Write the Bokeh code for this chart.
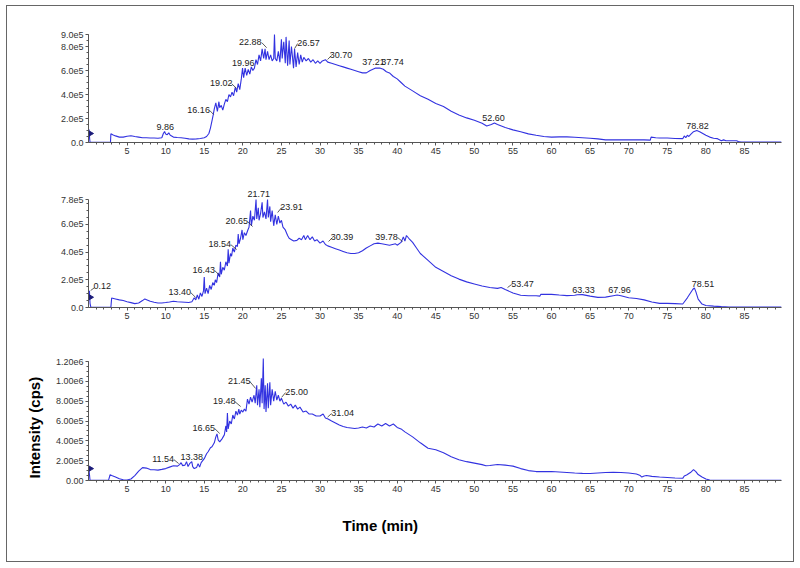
import numpy as np
from bokeh.plotting import figure
from bokeh.models import Range1d, FixedTicker, ColumnDataSource, Title
from bokeh.layouts import column
from bokeh.embed import file_html
from bokeh.resources import INLINE
from bokeh.core.properties import value

# ---------------- data (intensity in units of 1e5 cps) ----------------
time_a = [0, 0.05, 0.1, 0.15, 0.2, 1, 2, 2.85, 2.9, 3.2, 3.5, 4, 4.5, 5, 5.5, 6, 6.5, 7, 7.5, 8,
          8.5, 9, 9.5, 9.7, 9.86, 10.0, 10.2, 10.4, 10.6, 11, 11.5, 12, 12.5, 13, 13.5, 14, 14.5, 15, 15.3, 15.6,
          15.8, 16.0, 16.16, 16.3, 16.5, 16.7, 16.9, 17.0, 17.2, 17.4, 17.6, 17.8, 18.0, 18.2, 18.4, 18.6, 18.8, 19.02, 19.2, 19.4,
          19.6, 19.8, 19.96, 20.1, 20.3, 20.5, 20.7, 20.9, 21.1, 21.3, 21.5, 21.7, 21.9, 22.1, 22.3, 22.5, 22.7, 22.88, 23.0, 23.2,
          23.4, 23.6, 23.8, 24.0, 24.1, 24.2, 24.4, 24.6, 24.8, 25.0, 25.1, 25.3, 25.5, 25.6, 25.8, 26.0, 26.1, 26.3, 26.57, 26.7,
          26.9, 27.1, 27.3, 27.5, 27.7, 27.9, 28.2, 28.5, 28.8, 29.1, 29.4, 29.7, 30.0, 30.3, 30.7, 31.0, 31.5, 32, 32.5, 33,
          33.5, 34, 34.5, 35, 35.5, 36, 36.5, 37.21, 37.74, 38.2, 38.6, 39, 39.5, 40, 40.5, 41, 42, 43, 44, 45,
          46, 47, 48, 49, 50, 51, 51.6, 52.2, 52.6, 53, 54, 55, 56, 57, 58, 59, 60, 61, 62, 63,
          64, 65, 66, 67, 68, 69, 70, 71, 72, 72.8, 72.9, 73.5, 74, 75, 76, 77, 77.2, 77.4, 77.6, 77.8,
          78.0, 78.4, 78.82, 79.2, 79.6, 80, 80.5, 81, 81.5, 82, 82.3, 82.6, 83, 83.5, 84, 84.3, 84.6, 86, 88, 89.8]
inten_a = [1.0, 1.1, 0.9, 0.3, 0.02, 0.02, 0.02, 0.02, 0.72, 0.62, 0.55, 0.45, 0.45, 0.52, 0.56, 0.5, 0.45, 0.4, 0.4, 0.38,
           0.37, 0.36, 0.4, 0.75, 0.92, 0.7, 0.65, 0.8, 0.6, 0.45, 0.42, 0.4, 0.35, 0.3, 0.28, 0.3, 0.33, 0.4, 0.5, 0.75,
           1.2, 1.8, 2.3, 2.8, 3.3, 2.6, 3.4, 2.9, 3.1, 2.7, 3.2, 3.6, 3.4, 4.0, 3.8, 4.2, 3.9, 4.6, 4.2, 4.9,
           4.4, 5.3, 6.2, 5.4, 6.2, 5.6, 6.1, 5.7, 6.3, 6.0, 6.2, 6.9, 6.5, 7.3, 6.8, 7.8, 7.0, 7.8, 6.9, 7.6,
           6.9, 7.3, 6.8, 7.0, 9.0, 7.0, 6.8, 7.6, 6.7, 8.6, 7.0, 8.4, 6.6, 8.8, 6.4, 8.5, 6.5, 8.0, 6.2, 7.8,
           6.3, 7.5, 6.5, 7.3, 6.7, 7.1, 6.8, 7.0, 6.7, 6.9, 6.6, 6.8, 6.6, 6.8, 6.9, 6.7, 6.6, 6.5, 6.4, 6.3,
           6.2, 6.1, 6.0, 5.9, 5.8, 5.8, 6.0, 6.2, 6.2, 6.1, 5.9, 5.8, 5.5, 5.3, 5.0, 4.7, 4.3, 3.9, 3.6, 3.25,
           3.0, 2.6, 2.3, 2.05, 1.85, 1.6, 1.38, 1.5, 1.62, 1.5, 1.25, 1.05, 0.9, 0.72, 0.6, 0.5, 0.45, 0.47, 0.47, 0.44,
           0.4, 0.35, 0.3, 0.22, 0.22, 0.22, 0.22, 0.22, 0.22, 0.2, 0.45, 0.4, 0.38, 0.37, 0.33, 0.32, 0.55, 0.4, 0.6, 0.5,
           0.65, 0.9, 1.0, 0.9, 0.75, 0.6, 0.45, 0.35, 0.32, 0.15, 0.22, 0.15, 0.15, 0.15, 0.14, 0.05, 0.03, 0.03, 0.03, 0.03]

time_b = [0, 0.05, 0.12, 0.2, 0.3, 1, 2, 2.9, 3.0, 3.5, 4, 4.5, 5, 5.5, 6, 6.5, 7.0, 7.3, 7.6, 8,
          8.5, 9, 9.5, 10, 10.5, 11, 11.5, 12, 12.5, 13, 13.4, 13.7, 13.9, 14.1, 14.3, 14.5, 14.7, 14.9, 15.0, 15.1,
          15.3, 15.5, 15.7, 15.9, 16.1, 16.3, 16.43, 16.6, 16.8, 17.0, 17.1, 17.2, 17.4, 17.6, 17.8, 18.0, 18.1, 18.2, 18.4, 18.54,
          18.7, 18.9, 19.1, 19.3, 19.4, 19.5, 19.7, 19.9, 20.0, 20.2, 20.4, 20.65, 20.8, 21.0, 21.1, 21.3, 21.5, 21.71, 21.8, 22.0,
          22.1, 22.3, 22.5, 22.6, 22.8, 23.0, 23.2, 23.3, 23.5, 23.6, 23.8, 23.91, 24.0, 24.2, 24.4, 24.6, 24.8, 25.0, 25.2, 25.5,
          25.8, 26.0, 26.3, 26.6, 27.0, 27.3, 27.6, 27.9, 28.1, 28.4, 28.7, 29.0, 29.3, 29.6, 30.0, 30.39, 30.7, 31.0, 31.5, 32,
          32.5, 33, 33.5, 34, 34.5, 35, 35.5, 36, 36.5, 37, 37.5, 38, 38.5, 39, 39.78, 40, 40.5, 40.8, 41.0, 41.2,
          41.5, 42, 42.5, 43, 44, 45, 46, 47, 48, 49, 50, 51, 52, 53, 53.47, 54, 55, 56, 57, 58,
          58.5, 58.6, 59, 60, 61, 62, 63, 63.33, 64, 65, 66, 67, 68, 68.5, 69, 70, 71, 72, 73, 74,
          75, 76, 77, 77.2, 77.6, 78.0, 78.3, 78.51, 78.7, 79.0, 79.5, 80, 81, 82, 83, 86, 89.8]
inten_b = [0.8, 1.0, 1.2, 0.3, 0.02, 0.02, 0.02, 0.02, 0.68, 0.62, 0.55, 0.5, 0.42, 0.35, 0.28, 0.32, 0.5, 0.62, 0.55, 0.45,
           0.38, 0.32, 0.33, 0.36, 0.4, 0.45, 0.42, 0.4, 0.38, 0.36, 0.42, 0.7, 0.55, 0.9, 0.6, 1.05, 0.8, 1.2, 2.2, 1.0,
           1.4, 1.0, 1.6, 1.3, 1.8, 1.6, 2.0, 1.8, 2.5, 2.2, 3.3, 2.4, 2.9, 2.7, 3.3, 3.0, 4.2, 3.2, 3.9, 3.7,
           4.3, 4.0, 4.5, 4.4, 5.3, 4.6, 5.0, 5.6, 4.9, 5.4, 5.2, 5.6, 5.8, 7.0, 5.9, 6.6, 6.3, 7.8, 6.4, 7.2,
           6.3, 6.8, 7.6, 6.5, 6.9, 6.4, 7.8, 6.5, 7.3, 6.2, 7.0, 6.4, 5.9, 6.7, 6.0, 6.6, 6.1, 6.3, 5.8, 5.6,
           5.2, 5.0, 4.9, 4.8, 4.85, 5.0, 4.9, 5.2, 4.9, 5.2, 4.9, 5.1, 4.8, 4.9, 4.65, 4.8, 4.55, 4.45, 4.35, 4.25,
           4.15, 4.05, 3.95, 3.9, 3.9, 3.95, 4.1, 4.3, 4.45, 4.6, 4.65, 4.6, 4.55, 4.5, 4.6, 4.5, 4.7, 5.1, 4.8, 5.2,
           5.0, 4.7, 4.3, 3.9, 3.4, 2.9, 2.6, 2.3, 2.05, 1.85, 1.7, 1.55, 1.45, 1.38, 1.45, 1.3, 1.05, 0.88, 0.85, 0.85,
           0.82, 0.95, 0.95, 0.95, 0.9, 0.86, 0.88, 0.92, 0.93, 0.82, 0.73, 0.75, 0.85, 0.9, 0.85, 0.7, 0.65, 0.55, 0.4, 0.3,
           0.3, 0.28, 0.25, 0.4, 0.7, 1.05, 1.3, 1.42, 1.15, 0.6, 0.25, 0.15, 0.1, 0.06, 0.03, 0.03, 0.03]

time_c = [0, 0.05, 0.1, 0.2, 1, 2, 2.6, 2.8, 3.0, 3.5, 4, 4.5, 5, 5.5, 6, 6.5, 7, 7.5, 8, 8.5,
          9, 9.5, 10, 10.5, 11, 11.54, 11.8, 12.0, 12.2, 12.5, 12.7, 12.9, 13.1, 13.38, 13.5, 13.7, 14.0, 14.2, 14.4, 14.6,
          15.0, 15.3, 15.5, 15.8, 16.0, 16.3, 16.5, 16.65, 16.8, 17.0, 17.3, 17.6, 17.8, 17.9, 18.0, 18.1, 18.3, 18.5, 18.7, 18.9,
          19.1, 19.3, 19.48, 19.6, 19.8, 20.0, 20.2, 20.4, 20.6, 20.8, 21.0, 21.2, 21.45, 21.6, 21.8, 21.9, 22.1, 22.2, 22.4, 22.5,
          22.65, 22.75, 22.9, 23.0, 23.2, 23.3, 23.5, 23.6, 23.8, 24.0, 24.2, 24.4, 24.6, 24.8, 25.0, 25.3, 25.6, 25.9, 26.2, 26.5,
          26.8, 27.1, 27.4, 27.8, 28.2, 28.6, 29.0, 29.5, 30.0, 30.4, 30.7, 31.04, 31.5, 32, 32.5, 33, 33.5, 34, 34.5, 35,
          35.5, 36, 36.5, 37, 37.5, 38, 38.5, 39, 39.5, 40, 40.5, 41, 42, 43, 44, 45, 46, 47, 48, 49,
          50, 51, 51.5, 52, 53, 54, 55, 56, 57, 58, 59, 60, 61, 62, 63, 64, 65, 66, 67, 68,
          69, 70, 71, 71.5, 71.7, 72.0, 72.3, 73, 74, 75, 76, 77, 77.2, 77.5, 78.0, 78.4, 78.7, 79.0, 79.5, 80,
          80.5, 81, 85, 89.8]
inten_c = [1.0, 1.2, 0.8, 0.02, 0.02, 0.02, 0.03, 0.58, 0.5, 0.35, 0.18, 0.08, 0.05, 0.15, 0.5, 0.95, 1.3, 1.25, 1.1, 1.08,
           1.05, 1.12, 1.2, 1.35, 1.48, 1.45, 1.6, 1.8, 1.5, 1.55, 1.9, 1.4, 1.7, 1.9, 1.4, 1.2, 1.3, 1.7, 1.35, 1.8,
           2.2, 2.7, 2.9, 3.3, 3.4, 3.8, 4.4, 4.7, 4.1, 3.9, 4.2, 4.6, 5.5, 4.9, 6.8, 5.2, 6.0, 5.7, 6.6, 6.2,
           7.0, 6.6, 7.2, 6.7, 7.1, 6.9, 7.2, 7.0, 8.2, 7.7, 8.4, 7.9, 8.6, 7.8, 9.6, 7.6, 9.2, 7.4, 10.3, 7.8,
           12.3, 7.2, 9.6, 6.9, 9.8, 7.3, 9.9, 7.6, 9.2, 8.0, 9.0, 8.1, 8.6, 8.0, 8.3, 7.7, 7.9, 7.5, 7.7, 7.3,
           7.6, 7.2, 7.4, 6.9, 7.0, 6.7, 6.7, 6.5, 6.5, 6.7, 6.3, 6.2, 6.0, 5.8, 5.6, 5.45, 5.35, 5.3, 5.25, 5.3,
           5.4, 5.3, 5.5, 5.4, 5.7, 5.5, 5.75, 5.5, 5.7, 5.35, 5.2, 4.9, 4.4, 3.8, 3.25, 3.1, 2.8, 2.4, 2.1, 1.9,
           1.75, 1.6, 1.48, 1.52, 1.62, 1.55, 1.45, 1.2, 1.0, 0.9, 0.9, 0.9, 0.85, 0.8, 0.75, 0.72, 0.7, 0.75, 0.8, 0.82,
           0.8, 0.75, 0.65, 0.5, 0.35, 0.45, 0.5, 0.42, 0.35, 0.3, 0.25, 0.22, 0.45, 0.55, 0.8, 1.1, 0.9, 0.6, 0.35, 0.15,
           0.05, 0.02, 0.02, 0.02]

# peak annotations: text, text position (min, 1e5 cps), leader segments
labels_a = ["9.86", "16.16", "19.02", "19.96", "22.88", "26.57", "30.70", "37.21", "37.74", "52.60", "78.82"]
lab_x_a = [9.94, 14.27, 17.19, 20.04, 20.95, 28.52, 32.73, 36.94, 39.40, 52.49, 78.91]
lab_y_a = [1.33, 2.75, 4.97, 6.6, 8.36, 8.33, 7.31, 6.67, 6.67, 2.02, 1.36]
lead_a = [(15.70, 2.67, 16.22, 2.33), (18.55, 4.9, 19.2, 4.5), (22.44, 8.33, 23.08, 7.9),
          (26.71, 7.83, 27.10, 8.25), (30.98, 6.92, 31.5, 7.25)]

labels_b = ["0.12", "13.40", "16.43", "18.54", "20.65", "21.71", "23.91", "30.39", "39.78", "53.47", "63.33", "67.96", "78.51"]
lab_x_b = [1.77, 11.81, 14.92, 17.0, 19.2, 22.05, 26.32, 32.86, 38.63, 56.24, 64.14, 68.80, 79.62]
lab_y_b = [1.52, 1.10, 2.72, 4.57, 6.28, 8.21, 7.27, 5.11, 5.08, 1.71, 1.23, 1.23, 1.71]
lead_b = [(0.28, 1.23, 0.80, 1.44), (13.24, 1.08, 13.89, 0.72), (16.35, 2.67, 17.0, 2.31),
          (18.42, 4.55, 19.2, 4.19), (20.62, 6.21, 21.27, 5.85), (24.51, 6.86, 25.03, 7.22),
          (31.11, 4.77, 31.63, 5.06), (40.04, 5.06, 40.69, 4.77), (54.30, 1.44, 54.82, 1.66)]

labels_c = ["11.54", "13.38", "16.65", "19.48", "21.45", "25.00", "31.04"]
lab_x_c = [9.68, 13.37, 14.92, 17.58, 19.52, 26.97, 32.93]
lab_y_c = [2.12, 2.35, 5.31, 8.04, 10.0, 8.9, 6.79]
lead_c = [(11.04, 2.12, 11.68, 1.71), (16.35, 5.24, 17.0, 4.74), (18.94, 7.97, 19.72, 7.46),
          (20.88, 10.0, 21.66, 9.28), (25.03, 8.39, 25.54, 8.87), (30.98, 6.39, 31.5, 6.76)]

yticks_a = [0, 2e5, 4e5, 6e5, 8e5, 9e5]
ytick_labels_a = ["0.0", "2.0e5", "4.0e5", "6.0e5", "8.0e5", "9.0e5"]
yticks_b = [0, 2e5, 4e5, 6e5, 7.8e5]
ytick_labels_b = ["0.0", "2.0e5", "4.0e5", "6.0e5", "7.8e5"]
yticks_c = [0, 2e5, 4e5, 6e5, 8e5, 1e6, 1.2e6]
ytick_labels_c = ["0.00", "2.00e5", "4.00e5", "6.00e5", "8.00e5", "1.00e6", "1.20e6"]
xticks = [5, 10, 15, 20, 25, 30, 35, 40, 45, 50, 55, 60, 65, 70, 75, 80, 85]
threshold_a, threshold_b, threshold_c = 0.75, 0.74, 1.2

# ---------------- styling ----------------
LINE = "#3232e0"
FONT = "Liberation Sans"
X_END = 89.8
SCALE = 1e5
W = 786


def panel(t, y, yticks, ylabels, axis_px, height, top, bottom, labels, lx, ly, leads, thr):
    frame_h = height - top - bottom
    ymax = yticks[-1] * frame_h / axis_px
    p = figure(width=W, height=height, output_backend="svg", toolbar_location=None,
               x_range=Range1d(0, X_END), y_range=Range1d(0, ymax),
               min_border_left=81, min_border_right=12, min_border_top=top, min_border_bottom=bottom)
    p.outline_line_color = None
    p.grid.visible = False

    p.line(np.array(t), np.array(y) * SCALE, line_color=LINE, line_width=1.1)
    p.scatter([0.05], [thr * SCALE], marker="triangle", angle=-np.pi / 2, size=8,
              fill_color="#1c1c7a", line_color="#1c1c7a")

    src = ColumnDataSource(dict(x=lx, y=[v * SCALE for v in ly], text=labels))
    p.text(x="x", y="y", text="text", source=src, text_align="center", text_baseline="middle",
           text_font_size="9px", text_font=value(FONT), text_color="#222222")
    if leads:
        p.segment(x0=[l[0] for l in leads], y0=[l[1] * SCALE for l in leads],
                  x1=[l[2] for l in leads], y1=[l[3] * SCALE for l in leads],
                  line_color="#333333", line_width=0.8)

    xa = p.xaxis[0]
    xa.ticker = FixedTicker(ticks=xticks, minor_ticks=list(range(1, 90)))
    xa.bounds = (0, X_END)
    ya = p.yaxis[0]
    ya.ticker = FixedTicker(ticks=yticks, minor_ticks=list(np.arange(0, yticks[-1] + 1, 0.5e5)))
    ya.bounds = (0, yticks[-1])
    ya.major_label_overrides = {float(v): s for v, s in zip(yticks, ylabels)}
    for ax in (xa, ya):
        ax.axis_line_color = "#555555"
        ax.major_tick_line_color = "#555555"
        ax.minor_tick_line_color = "#555555"
        ax.major_tick_in = 0
        ax.major_tick_out = 3
        ax.minor_tick_in = 0
        ax.minor_tick_out = 2
        ax.major_label_text_font = FONT
        ax.major_label_text_font_size = "9px"
        ax.major_label_text_color = "#333333"
        ax.major_label_standoff = 2
    return p


p1 = panel(time_a, inten_a, yticks_a, ytick_labels_a, 108, 164, 20, 28, labels_a, lab_x_a, lab_y_a, lead_a, threshold_a)
p2 = panel(time_b, inten_b, yticks_b, ytick_labels_b, 108, 160, 15, 23, labels_b, lab_x_b, lab_y_b, lead_b, threshold_b)
p3 = panel(time_c, inten_c, yticks_c, ytick_labels_c, 119, 231, 20, 81, labels_c, lab_x_c, lab_y_c, lead_c, threshold_c)

p3.add_layout(Title(text="Time (min)", align="left", offset=254, standoff=40,
                    text_font=FONT, text_font_style="bold", text_font_size="15px", text_color="#000000"), "below")
p3.add_layout(Title(text="Intensity (cps)", align="left", offset=2, standoff=20,
                    text_font=FONT, text_font_style="bold", text_font_size="15px", text_color="#000000"), "left")

layout = column(p1, p2, p3, spacing=0, margin=(5, 6, 0, 6), styles={"border": "1px solid #666666"})

open("out.html", "w").write(file_html(layout, INLINE))
